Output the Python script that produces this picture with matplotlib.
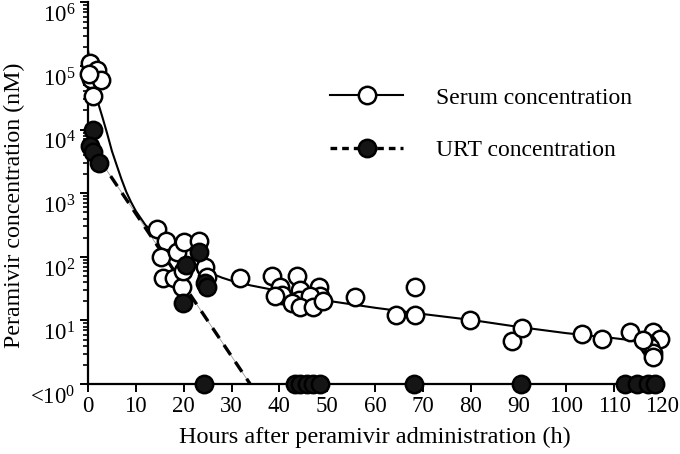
import matplotlib
matplotlib.use("Agg")
import matplotlib.pyplot as plt
from matplotlib.lines import Line2D
from matplotlib.ticker import LogLocator, NullFormatter, FixedLocator
import matplotlib.transforms as mtransforms

plt.rcParams['font.family'] = ['Liberation Serif', 'DejaVu Serif']
plt.rcParams['mathtext.fontset'] = 'custom'
plt.rcParams['mathtext.rm'] = 'Liberation Serif'
plt.rcParams['mathtext.it'] = 'Liberation Serif:italic'

# ---- data ----
serum_t = [0.5, 1.8, 0.6, 2.8, 1.0, 0.3,
           14.4, 16.3, 15.3, 15.6, 18.6, 20.1, 23.2, 17.9, 19.7, 24.5, 24.8, 19.9,
           31.8, 38.4, 43.6, 40.1, 40.5, 44.3, 44.2, 48.2, 48.5, 46.4, 42.6, 44.3,
           47.1, 49.1, 39.1, 55.8, 64.4, 68.4, 68.4, 79.9, 88.6, 90.7, 103.3, 107.5,
           113.3, 118.1, 119.5, 116.9, 117.5, 118.1, 118.1, 116.0]
serum_v = [110000, 85000, 62000, 60000, 34000, 75000,
           270, 175, 100, 47, 117, 170, 175, 47, 34, 68, 49, 60,
           47, 50, 50, 34, 25.5, 30.5, 21, 34, 24, 24, 19, 16,
           16, 20, 24, 23, 12, 34, 12, 10.2, 4.8, 7.7, 6.2, 5.1,
           6.6, 6.6, 5.1, 4.4, 3.8, 3.1, 2.7, 5.0]

urt_t = [1.1, 0.4, 1.1, 2.2, 23.2, 20.5, 24.5, 24.9, 19.9]
urt_v = [9700, 5600, 4400, 3000, 117, 73, 39, 34, 19]

# below detection limit, plotted at "<10^0"
urt_lod_t = [24.2, 43.3, 44.3, 45.8, 47.0, 48.5, 68.2, 90.5, 112.3, 114.8, 117.1, 118.5]
urt_lod_v = [1.0] * len(urt_lod_t)

# fitted serum curve
serum_fit_t = [0, 1, 2, 3, 4, 5, 6, 7, 8, 9, 10, 12, 14, 16, 18, 20, 22, 24, 26, 28,
               30, 34, 38, 44, 50, 60, 70, 80, 90, 100, 110, 118.5]
serum_fit_v = [178000, 56000, 28000, 15800, 8700, 4600, 2750, 1660, 1050, 725, 525,
               316, 229, 170, 129, 100, 79, 65, 54, 47,
               42, 35.5, 31, 25, 20.4, 15.8, 12.6, 10.2, 7.9, 6.3, 5.25, 4.4]

# fitted URT line
urt_fit_t = [0, 33.9]
urt_fit_v = [6300, 1.0]

xticks = [0, 10, 20, 30, 40, 50, 60, 70, 80, 90, 100, 110, 120]
yticks = [1, 10, 100, 1000, 10000, 100000, 1000000]
ytick_labels = [r'<$\mathregular{10^{0}}$', r'$\mathregular{10^{1}}$', r'$\mathregular{10^{2}}$',
                r'$\mathregular{10^{3}}$', r'$\mathregular{10^{4}}$', r'$\mathregular{10^{5}}$',
                r'$\mathregular{10^{6}}$']

# ---- figure ----
W, H = 680, 454
fig = plt.figure(figsize=(W / 100, H / 100), dpi=100)
ax = fig.add_axes([88 / W, 70 / H, 574 / W, 381.6 / H])

ax.set_yscale('log')
ax.set_xlim(0, 120)
ax.set_ylim(1, 1e6)

ms = 12.5
mew = 1.8
dash_style = (0, (3.6, 2.5))

# lines
ax.plot(serum_fit_t, serum_fit_v, color='black', lw=1.5, zorder=2)
ax.plot(urt_fit_t, urt_fit_v, color='#999999', lw=0.6, zorder=2)
ax.plot(urt_fit_t, urt_fit_v, color='black', lw=2.4, linestyle=dash_style, zorder=2.1,
        dash_capstyle='butt')

# markers
ax.plot(serum_t, serum_v, linestyle='none', marker='o', ms=ms, mfc='white', mec='black',
        mew=mew, zorder=3, clip_on=False)
ax.plot(urt_t, urt_v, linestyle='none', marker='o', ms=ms, mfc='#151515', mec='black',
        mew=mew, zorder=4, clip_on=False)
ax.plot(urt_lod_t, urt_lod_v, linestyle='none', marker='o', ms=ms, mfc='#151515', mec='black',
        mew=mew, zorder=5, clip_on=False)

# axes styling
for s in ['top', 'right']:
    ax.spines[s].set_visible(False)
for s in ['left', 'bottom']:
    ax.spines[s].set_linewidth(1.6)

ax.xaxis.set_major_locator(FixedLocator(xticks))
ax.set_xticklabels([str(x) for x in xticks])
ax.yaxis.set_major_locator(FixedLocator(yticks))
ax.set_yticklabels(ytick_labels)
ax.yaxis.set_minor_locator(LogLocator(base=10, subs=range(2, 10), numticks=20))
ax.yaxis.set_minor_formatter(NullFormatter())

ax.tick_params(axis='x', which='major', direction='out', length=6, width=1.4,
               labelsize=16.5, pad=3)
ax.tick_params(axis='y', which='major', direction='out', length=6, width=1.4,
               labelsize=16.5, pad=3)
ax.tick_params(axis='y', which='minor', direction='out', length=3.5, width=1.2)

# y tick labels sit below their ticks, as in the reference
offset = mtransforms.ScaledTranslation(0, -1.5 / 72, fig.dpi_scale_trans)
for lab in ax.get_yticklabels():
    lab.set_verticalalignment('top')
    lab.set_transform(lab.get_transform() + offset)

ax.set_xlabel('Hours after peramivir administration (h)', fontsize=17.5, labelpad=7)
ax.set_ylabel('Peramivir concentration (nM)', fontsize=17.2)
ax.yaxis.set_label_coords(-0.109, 0.469)

# legend
h1 = Line2D([], [], color='black', lw=1.5, marker='o', ms=ms, mfc='white', mec='black', mew=mew)
h2 = Line2D([], [], color='black', lw=2.4, linestyle=(0, (2.0, 1.5)), marker='o', ms=ms,
            mfc='#151515', mec='black', mew=mew)
leg = ax.legend([h1, h2], ['Serum concentration', 'URT concentration'],
                loc='center left', bbox_to_anchor=(330 / W, 1 - 124 / H),
                bbox_transform=fig.transFigure, frameon=False, fontsize=17,
                handlelength=3.1, handletextpad=1.4, labelspacing=1.3,
                borderpad=0, borderaxespad=0, numpoints=1)

fig.savefig('out.png', dpi=100)
